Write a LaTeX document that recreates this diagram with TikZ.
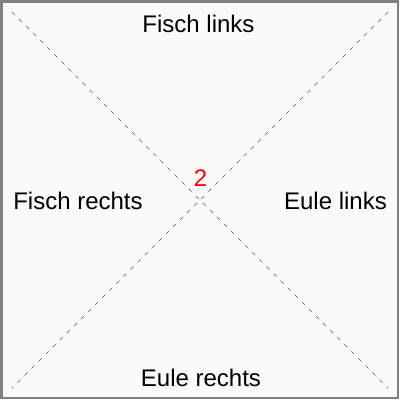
\documentclass[tikz,border=0pt]{standalone}
\usepackage{fontspec}
\setmainfont{Liberation Sans}

\begin{document}
\begin{tikzpicture}[x=1pt, y=-1pt,
	label/.style={anchor=base, inner sep=0pt, font=\fontsize{24}{28}\selectfont},
	diag/.style={draw=black!65, line width=0.7pt, dash pattern=on 4pt off 6pt}]
	\fill[black!2] (0, 0) rectangle (400, 400);
	\draw[black!50, line width=2.5pt] (1.5, 1.5) rectangle (398, 398);
	\useasboundingbox (0, 0) rectangle (400, 400);

	\coordinate (tl) at (12, 12);
	\coordinate (tr) at (388, 12);
	\coordinate (bl) at (12, 388);
	\coordinate (br) at (388, 388);

	\draw[diag] (tl) -- (br);
	\draw[diag] (tr) -- (bl);

	\node[label] (fischlinks) at (198.5, 32) {Fisch links};
	\node[label] (fischrechts) at (78, 209) {Fisch rechts};
	\node[label] (eulelinks) at (335.5, 209) {Eule links};
	\node[label] (eulerechts) at (201, 386) {Eule rechts};
	\node[label, text=red] (zahl) at (200.5, 186.5) {2};

\end{tikzpicture}
\end{document}
